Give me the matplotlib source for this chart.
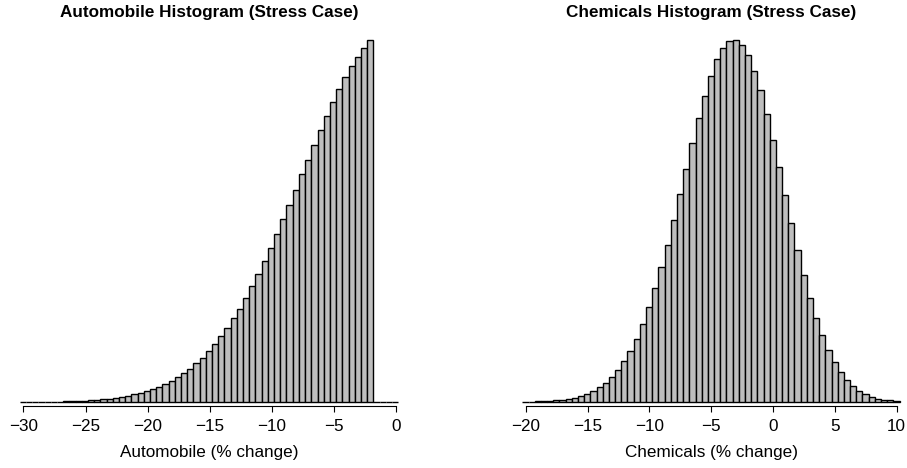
import numpy as np
import matplotlib
matplotlib.use("Agg")
import matplotlib.pyplot as plt

plt.rcParams['font.family'] = ['Liberation Sans', 'DejaVu Sans']

# histogram counts (bin width 0.5)
auto_start = -30.3
auto_counts = [1, 1, 2, 2, 3, 4, 5, 6, 8, 10, 13, 17, 23, 27, 33, 43, 50, 63, 77, 90,
               110, 130, 153, 180, 210, 247, 287, 333, 387, 443, 507, 580, 657, 740,
               837, 933, 1043, 1160, 1280, 1410, 1543, 1680, 1827, 1973, 2123, 2277,
               2427, 2573, 2720, 2867, 3000, 3130, 3250, 3363, 3457, 3547, 3620,
               0, 0, 0, 0]
auto_ticks = [-30, -25, -20, -15, -10, -5, 0]

chem_start = -20.27
chem_counts = [3, 3, 7, 7, 10, 17, 23, 30, 40, 57, 83, 107, 147, 190, 247, 317, 407,
               510, 633, 780, 947, 1137, 1347, 1573, 1820, 2080, 2333, 2597, 2843,
               3067, 3267, 3430, 3547, 3610, 3620, 3570, 3470, 3317, 3120, 2883, 2627,
               2350, 2067, 1787, 1517, 1270, 1040, 837, 667, 520, 397, 300, 223, 157,
               113, 77, 50, 33, 23, 17, 10]
chem_ticks = [-20, -15, -10, -5, 0, 5, 10]

BIN_W = 0.5
BAR_FILL = '#bebebe'
FS = 12.3

fig = plt.figure(figsize=(9.07, 4.68), dpi=100)


def draw_hist(rect, start, counts, ticks, title, xlabel):
    ax = fig.add_axes(rect)
    edges = start + BIN_W * np.arange(len(counts))
    ax.bar(edges, counts, width=BIN_W, align='edge', color=BAR_FILL,
           edgecolor='black', linewidth=1.0, clip_on=False)
    ax.set_xlim(ticks[0] - 0.5, ticks[-1] + 0.5)
    ax.set_ylim(0, 3620)
    for s in ['top', 'right', 'left']:
        ax.spines[s].set_visible(False)
    ax.spines['bottom'].set_bounds(ticks[0], ticks[-1])
    ax.spines['bottom'].set_position(('outward', 3))
    ax.spines['bottom'].set_linewidth(0.8)
    ax.set_yticks([])
    ax.set_xticks(ticks)
    ax.set_xticklabels([str(t).replace('-', '\u2212') for t in ticks])
    ax.tick_params(axis='x', length=4.5, width=0.8, labelsize=FS, pad=4.5)
    ax.set_title(title, fontsize=FS, fontweight='bold', pad=17)
    ax.set_xlabel(xlabel, fontsize=FS, labelpad=8)
    return ax


draw_hist([0.01907, 0.1410, 0.4240, 0.7729], auto_start, auto_counts, auto_ticks,
          'Automobile Histogram (Stress Case)', 'Automobile (% change)')
draw_hist([0.5728, 0.1410, 0.4227, 0.7729], chem_start, chem_counts, chem_ticks,
          'Chemicals Histogram (Stress Case)', 'Chemicals (% change)')

fig.savefig('out.png', dpi=100)
